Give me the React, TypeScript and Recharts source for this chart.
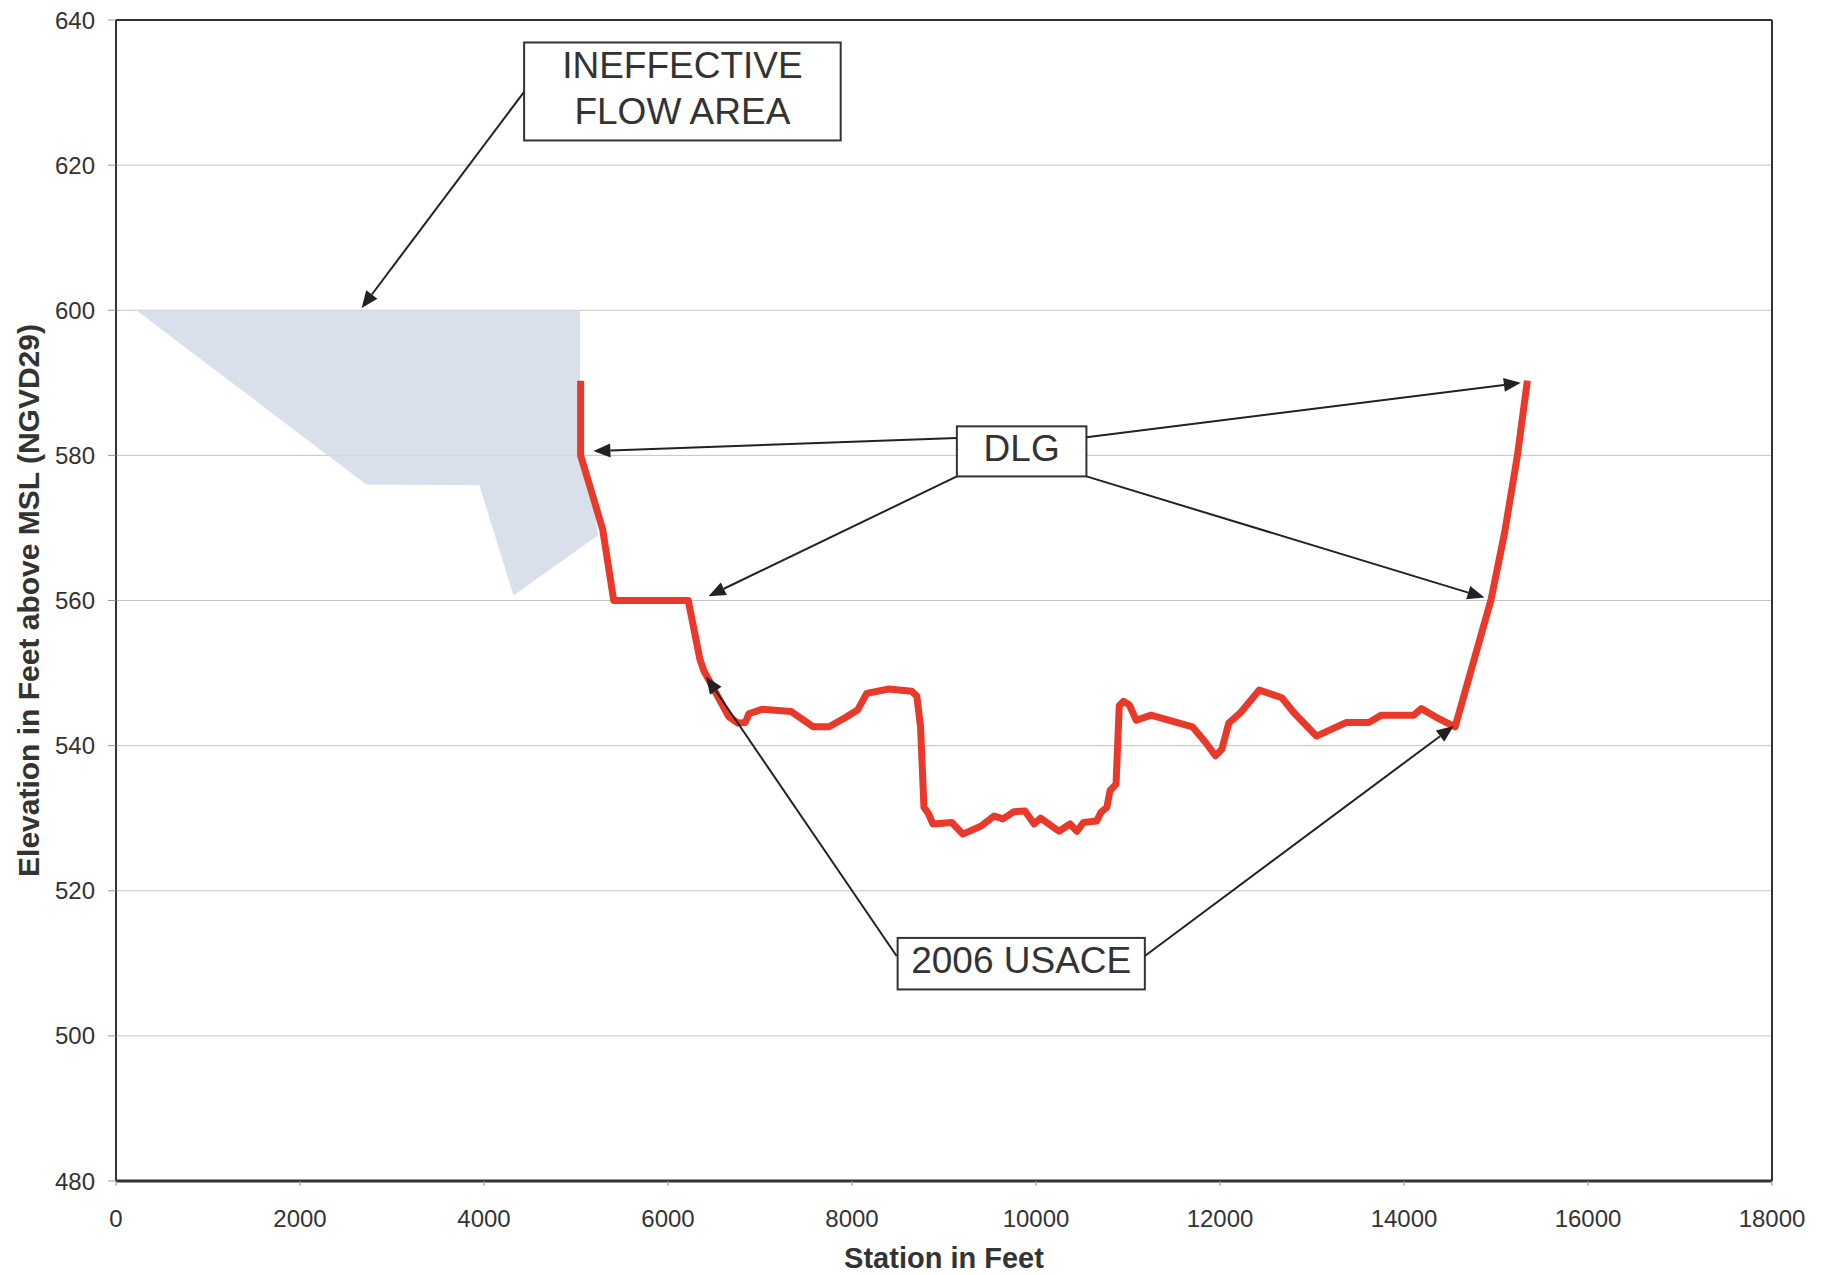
import { CartesianGrid, ComposedChart, Label, Line, ReferenceArea, ReferenceLine, Scatter, XAxis, YAxis } from 'recharts'

// ground profile (station in feet, elevation in feet NGVD29)
const profileStation = [
  5050, 5050, 5180, 5290, 5410, 6220, 6345, 6390, 6540, 6660, 6760, 6840, 6880, 7020, 7340, 7580, 7750, 7920,
  8060, 8160, 8400, 8650, 8705, 8745, 8782, 8832, 8880, 9084, 9205, 9400, 9545, 9640, 9760, 9880, 9980, 10050,
  10250, 10370, 10445, 10515, 10660, 10705, 10770, 10805, 10870, 10905, 10950, 11015, 11090, 11250, 11700, 11840,
  11950, 12020, 12095, 12220, 12427, 12672, 12806, 13049, 13375, 13618, 13754, 14108, 14188, 14350, 14556, 14946,
  15093, 15233, 15341,
]
const profileElev = [
  590.3, 580, 574.5, 569.8, 560, 560, 552, 550.3, 546.8, 544, 543.1, 543.2, 544.4, 545, 544.7, 542.6, 542.6, 543.8,
  544.9, 547.2, 547.8, 547.5, 546.8, 542.6, 531.5, 530.6, 529.2, 529.4, 527.8, 528.9, 530.3, 529.9, 530.9, 531,
  529.2, 530, 528.2, 529.2, 528.2, 529.4, 529.6, 530.8, 531.5, 533.8, 534.7, 545.5, 546.1, 545.6, 543.5, 544.2,
  542.6, 540.5, 538.6, 539.5, 543.1, 544.5, 547.65, 546.6, 544.5, 541.3, 543.2, 543.2, 544.2, 544.2, 545.1, 543.9,
  542.6, 560.1, 569.3, 580, 590.3,
]

// ineffective flow area outline
const ineffStation = [220, 5045, 5045, 5180, 5240, 4320, 3950, 2720, 220]
const ineffElev = [600, 600, 580, 574.5, 569, 560.7, 575.9, 576, 600]

const xTicks = [0, 2000, 4000, 6000, 8000, 10000, 12000, 14000, 16000, 18000]
const yTicks = [480, 500, 520, 540, 560, 580, 600, 620, 640]

// callout boxes: text lines and extent in data units
const boxLabels = [['INEFFECTIVE', 'FLOW AREA'], ['DLG'], ['2006 USACE']]
const boxX = [[4436, 7877], [9140, 10548], [8496, 11183]]
const boxY = [[636.9, 623.4], [584.0, 577.1], [513.5, 506.4]]

// arrows: [from station, from elev, to station, to elev]
const arrows = [
  [4436, 630.1, 2670, 600.3],
  [9140, 582.4, 5189, 580.6],
  [10548, 582.5, 15270, 590],
  [9140, 577.1, 6440, 560.6],
  [10548, 577.1, 14875, 560.4],
  [8485, 511.0, 6415, 549.5],
  [11183, 511.0, 14540, 542.7],
]

const profile = profileStation.map((s, i) => ({ station: s, elev: profileElev[i] }))
const ineffective = ineffStation.map((s, i) => ({ station: s, elev: ineffElev[i] }))

const FONT = '"Liberation Sans", Arial, sans-serif'
const INK = '#333'

function arrowShape(props: any) {
  const { x1, y1, x2, y2 } = props
  const ang = Math.atan2(y2 - y1, x2 - x1)
  const len = 17
  const half = 7
  const bx = x2 - len * Math.cos(ang)
  const by = y2 - len * Math.sin(ang)
  const px = -Math.sin(ang) * half
  const py = Math.cos(ang) * half
  return (
    <g>
      <line x1={x1} y1={y1} x2={bx} y2={by} stroke="#222" strokeWidth={2} />
      <polygon points={`${x2},${y2} ${bx + px},${by + py} ${bx - px},${by - py}`} fill="#222" />
    </g>
  )
}

function boxShape(lines: string[]) {
  return (props: any) => {
    const { x, y, width, height } = props
    const cx = x + width / 2
    const lh = 46
    const top = y + height / 2 - ((lines.length - 1) * lh) / 2 - 3
    return (
      <g>
        <rect x={x} y={y} width={width} height={height} fill="#fff" stroke={INK} strokeWidth={2} />
        {lines.map((t, i) => (
          <text
            key={t}
            x={cx}
            y={top + i * lh}
            textAnchor="middle"
            dominantBaseline="central"
            fontSize={37}
            fontFamily={FONT}
            fill={INK}
          >
            {t}
          </text>
        ))}
      </g>
    )
  }
}

export default function App() {
  return (
    <div style={{ position: 'absolute', left: 0, top: 0, background: '#fff' }}>
      <ComposedChart width={1832} height={1275} margin={{ top: 20, right: 60, bottom: 4, left: 0 }}>
        <CartesianGrid vertical={false} stroke="#c4c4c4" />
        <XAxis
          type="number"
          dataKey="station"
          domain={[0, 18000]}
          ticks={xTicks}
          interval={0}
          allowDataOverflow
          height={90}
          tickSize={5}
          tickMargin={24}
          axisLine={{ stroke: INK, strokeWidth: 3 }}
          tickLine={{ stroke: '#999' }}
          tick={{ fontSize: 24, fill: INK, fontFamily: FONT }}
        >
          <Label
            value="Station in Feet"
            position="insideBottom"
            offset={3}
            style={{ fontSize: 29, fontWeight: 'bold', fill: INK, fontFamily: FONT }}
          />
        </XAxis>
        <YAxis
          type="number"
          dataKey="elev"
          domain={[480, 640]}
          ticks={yTicks}
          interval={0}
          allowDataOverflow
          width={116}
          tickSize={8}
          tickMargin={13}
          axisLine={{ stroke: INK, strokeWidth: 2 }}
          tickLine={{ stroke: '#999' }}
          tick={{ fontSize: 24, fill: INK, fontFamily: FONT }}
        >
          <Label
            value="Elevation in Feet above MSL (NGVD29)"
            angle={-90}
            position="insideLeft"
            offset={28}
            style={{ fontSize: 30, fontWeight: 'bold', fill: INK, fontFamily: FONT, textAnchor: 'middle' }}
          />
        </YAxis>
        <ReferenceLine y={640} stroke={INK} strokeWidth={2} />
        <ReferenceLine x={18000} stroke={INK} strokeWidth={2} />
        <Scatter
          data={ineffective}
          dataKey="elev"
          fill="#d6dce8"
          line={{ fill: '#d3dae7', fillOpacity: 0.85, stroke: 'none' }}
          shape={() => <g />}
          legendType="none"
          zIndex={300}
          isAnimationActive={false}
        />
        <Line
          data={profile}
          dataKey="elev"
          type="linear"
          stroke="#e8392b"
          strokeWidth={7}
          strokeLinejoin="round"
          dot={false}
          activeDot={false}
          isAnimationActive={false}
        />
        {arrows.map((a, i) => (
          <ReferenceLine
            key={`arrow-${i}`}
            segment={[
              { x: a[0], y: a[1] },
              { x: a[2], y: a[3] },
            ]}
            shape={arrowShape}
          />
        ))}
        {boxLabels.map((lines, i) => (
          <ReferenceArea
            key={`box-${i}`}
            x1={boxX[i][0]}
            x2={boxX[i][1]}
            y1={boxY[i][0]}
            y2={boxY[i][1]}
            shape={boxShape(lines)}
          />
        ))}
      </ComposedChart>
    </div>
  )
}
